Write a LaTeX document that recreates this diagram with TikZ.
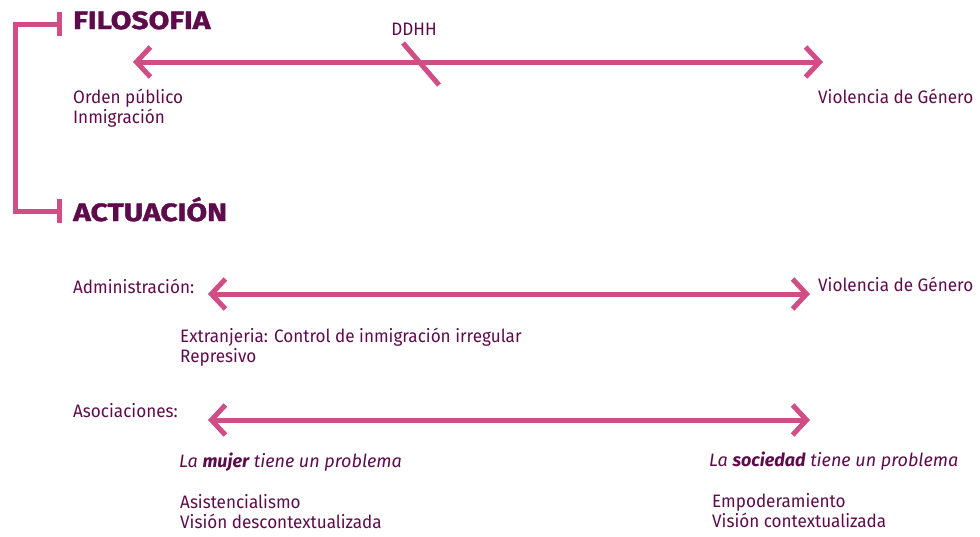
\documentclass[tikz,border=0pt]{standalone}
\usepackage{fontspec}
\setmainfont{Fira Sans}[FakeStretch=0.95]
\newfontfamily\titulofont{Fira Sans}[FakeStretch=1.2,BoldFeatures={FakeBold=1.5}]
\newfontfamily\cursivafont{Fira Sans}[FakeStretch=1.0]
\usetikzlibrary{arrows.meta,calc}
\definecolor{rosa}{HTML}{D14D85}
\definecolor{morado}{HTML}{5E0B4B}

\begin{document}
\begin{tikzpicture}[x=1pt,y=-1pt,
      texto/.style={anchor=base west,inner sep=0pt,text=morado,font=\fontsize{18}{20}\selectfont},
      cursiva/.style={texto,font=\cursivafont\itshape\fontsize{18}{20}\selectfont},
      titulo/.style={anchor=base west,inner sep=0pt,text=morado,font=\titulofont\bfseries\fontsize{25}{28}\selectfont},
      linea/.style={line width=5pt,rosa},
      eje/.style={{Straight Barb[length=14pt,width=30pt]}-{Straight Barb[length=14pt,width=30pt]},line width=5pt,rosa}]
    \useasboundingbox (0,0) rectangle (980,536);
    % titulos y corchete
    \node[titulo] (filosofia) at (73,29) {FILOSOFIA};
    \node[titulo] (actuacion) at (73,221) {ACTUACIÓN};
    \coordinate (corchete1) at (59,24);
    \coordinate (corchete2) at (59,211);
    \draw[linea] (corchete1) -- ++(-44,0) |- (corchete2);
    \draw[linea] ($(corchete1)+(0,-12)$) -- ++(0,24);
    \draw[linea] ($(corchete2)+(0,-12)$) -- ++(0,24);
    % filosofia
    \coordinate (filoIzq) at (133,62);
    \coordinate (filoDer) at (823,62);
    \draw[eje] (filoIzq) -- (filoDer);
    \node[texto,anchor=base] (ddhh) at (414,35) {DDHH};
    \coordinate (ddhh1) at (403,43);
    \coordinate (ddhh2) at (439,85);
    \draw[linea] (ddhh1) -- (ddhh2);
    \node[texto] (orden) at (73,103) {Orden público};
    \node[texto] (inmig) at (73,123) {Inmigración};
    \node[texto] (violencia1) at (818,103) {Violencia de Género};
    % actuacion: administracion
    \node[texto] (admin) at (73,293) {Administración:};
    \coordinate (adminIzq) at (208,294);
    \coordinate (adminDer) at (810,294);
    \draw[eje] (adminIzq) -- (adminDer);
    \node[texto] (violencia2) at (818,291) {Violencia de Género};
    \node[texto] (extranjeria) at (180,342) {Extranjeria: Control de inmigración irregular};
    \node[texto] (represivo) at (180,362) {Represivo};
    % actuacion: asociaciones
    \node[texto] (asoc) at (73,417) {Asociaciones:};
    \coordinate (asocIzq) at (208,420);
    \coordinate (asocDer) at (810,420);
    \draw[eje] (asocIzq) -- (asocDer);
    \node[cursiva] (mujer) at (179,467) {La \textbf{mujer} tiene un problema};
    \node[cursiva] (sociedad) at (709,466) {La \textbf{sociedad} tiene un problema};
    \node[texto] (asist) at (180,508) {Asistencialismo};
    \node[texto] (descontex) at (180,528) {Visión descontextualizada};
    \node[texto] (empod) at (712,507) {Empoderamiento};
    \node[texto] (contex) at (712,527) {Visión contextualizada};
  \end{tikzpicture}
\end{document}
